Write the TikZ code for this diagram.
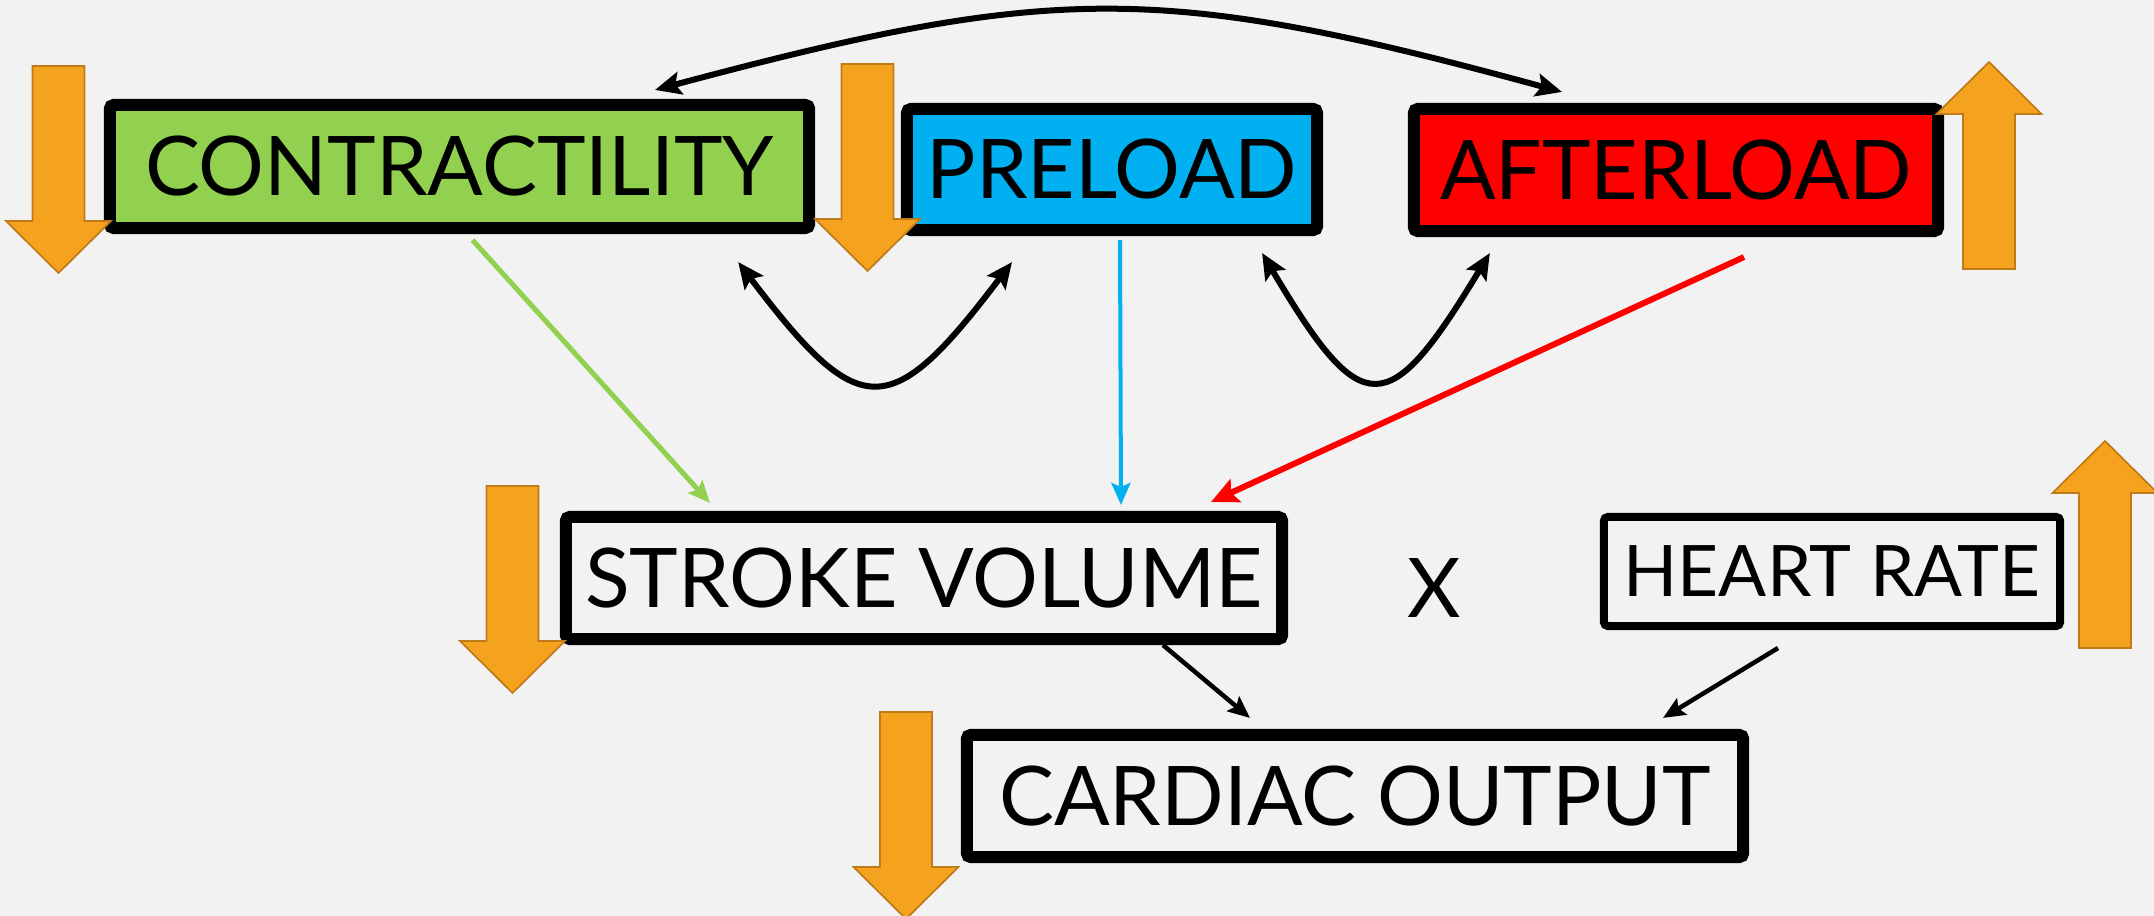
\documentclass[tikz,border=0pt]{standalone}
\usepackage{fontspec}
\setmainfont{Lato}
\usetikzlibrary{arrows.meta,calc}
\definecolor{bg}{HTML}{F2F2F2}
\definecolor{contrgreen}{HTML}{92D050}
\definecolor{preblue}{HTML}{00B0F0}
\definecolor{afterred}{HTML}{FF0000}
\definecolor{changefill}{HTML}{F5A31F}
\definecolor{changeedge}{HTML}{BF7A1A}
\begin{document}
\begin{tikzpicture}
    [x=0.01cm, y=-0.01cm,
     factor/.style={draw, line width=0.12cm, rounded corners=0.04cm, inner sep=0pt,
        font=\fontsize{23.4}{28}\selectfont},
     link/.style={line width=0.045cm, -{Stealth[length=0.22cm, width=0.19cm, inset=0.04cm]}},
     twoway/.style={line width=0.06cm,
        {Stealth[length=0.26cm, width=0.23cm, inset=0.05cm]}-{Stealth[length=0.26cm, width=0.23cm, inset=0.05cm]}},
     change/.style={fill=changefill, draw=changeedge, line width=0.017cm}]
    \fill[bg] (0,0) rectangle (2154,916);
    \useasboundingbox (0,0) rectangle (2154,916);
    \node[factor, fill=contrgreen, minimum width=6.99cm, minimum height=1.23cm] (contr) at (459.5,166.5) {CONTRACTILITY};
    \node[factor, fill=preblue, minimum width=4.10cm, minimum height=1.21cm] (pre) at (1112,169.5) {PRELOAD};
    \node[factor, fill=afterred, minimum width=5.24cm, minimum height=1.22cm] (after) at (1676,170) {AFTERLOAD};
    \node[factor, minimum width=7.16cm, minimum height=1.22cm] (sv) at (924,578) {STROKE VOLUME};
    \node[factor, line width=0.08cm, minimum width=4.56cm, minimum height=1.09cm,
        font=\fontsize{20.2}{24}\selectfont] (hr) at (1832,571.5) {HEART RATE};
    \node[factor, minimum width=7.76cm, minimum height=1.22cm] (co) at (1355,796) {CARDIAC OUTPUT};
    \node[font=\fontsize{23.4}{28}\selectfont] (times) at (1434,588) {X};
    \draw[twoway] ($(contr.north)+(195.5,-9)$) .. controls +(400,-107) and +(-400,-109) .. ($(after.north)+(-114,-11)$);
    \draw[twoway] ($(contr.south east)+(-77,28)$) .. controls +(122,161) and +(-122,161) .. ($(pre.south)+(-100,26)$);
    \draw[twoway] ($(pre.south east)+(-61,17)$) .. controls +(100,169) and +(-102,169) .. ($(after.south west)+(82,16)$);
    \draw[link, contrgreen, line width=0.05cm] ($(contr.south)+(13,6)$) -- ($(sv.north)+(-214,-8)$);
    \draw[link, preblue, line width=0.04cm] ($(pre.south)+(8,4)$) -- ($(sv.north)+(197,-6)$);
    \draw[link, afterred, line width=0.06cm, -{Stealth[length=0.27cm, width=0.25cm, inset=0.05cm]}]
        ($(after.south)+(68,20)$) -- ($(sv.north)+(287,-9)$);
    \draw[link] ($(sv.south)+(239,0)$) -- ($(co.north)+(-105,-11)$);
    \draw[link] ($(hr.south)+(-54,18)$) -- ($(co.north)+(308,-11)$);
    \foreach \x/\y/\d in {58.5/66/1, 867.5/64/1, 512.5/486/1, 906/712/1, 1989/269/-1, 2105/648/-1}
        \draw[change] ({\x-26},\y) -- ({\x-26},{\y+155*\d}) -- ({\x-52.5},{\y+155*\d}) -- (\x,{\y+207*\d})
            -- ({\x+52.5},{\y+155*\d}) -- ({\x+26},{\y+155*\d}) -- ({\x+26},\y) -- cycle;
\end{tikzpicture}
\end{document}
